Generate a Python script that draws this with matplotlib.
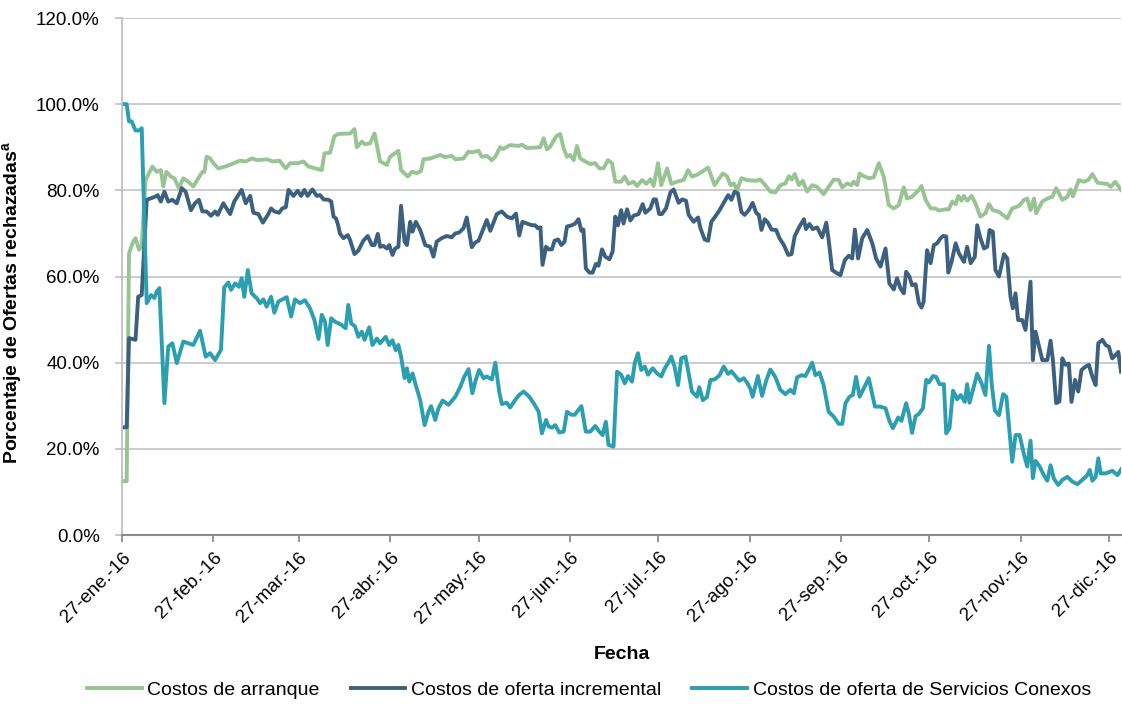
import numpy as np
import pandas as pd
import matplotlib
matplotlib.use("Agg")
import matplotlib.pyplot as plt
from matplotlib.ticker import FuncFormatter

plt.rcParams['font.family'] = ['Liberation Sans', 'DejaVu Sans']

# dias desde 27-ene-2016, valor en %
arranque = [
    (0, 12.5), (1.6, 12.5), (2.4, 65.4), (3.8, 68.1), (4.6, 68.9), (5.8, 66.2), (6.7, 67.0),
    (8.0, 82.4), (10.3, 85.5), (11.8, 84.3), (13.2, 84.7), (14.0, 80.9), (15.1, 84.3), (16.6, 83.2),
    (17.8, 82.8), (19.3, 80.5), (20.8, 82.8), (22.5, 82.0), (24.2, 80.9), (25.9, 82.8), (27.3, 84.3),
    (28.0, 84.3), (28.7, 87.8), (29.9, 87.4), (31.4, 86.0), (32.7, 85.1), (35.0, 85.5), (37.3, 86.1),
    (40.0, 86.9), (42.0, 86.7), (44.0, 87.4), (46.0, 87.0), (49.1, 87.2), (51.2, 86.7), (53.4, 86.9),
    (55.6, 85.1), (57.1, 86.3), (59.7, 86.3), (61.6, 86.7), (63.3, 85.5), (65.5, 85.1), (67.8, 84.7),
    (68.7, 88.6), (70.6, 88.7), (72.1, 92.6), (73.5, 93.1), (77.4, 93.2), (78.9, 94.2), (79.7, 90.0),
    (81.4, 91.3), (82.5, 90.7), (84.2, 90.9), (85.7, 93.2), (87.6, 86.7), (89.9, 85.9), (91.0, 87.8),
    (93.8, 89.2), (94.7, 84.7), (97.0, 83.2), (98.4, 84.3), (100.1, 84.0), (101.5, 84.5), (102.3, 87.2),
    (104.6, 87.4), (108.0, 88.2), (109.7, 87.7), (111.9, 88.0), (113.1, 87.2), (115.9, 87.4),
    (117.6, 89.0), (118.7, 88.8), (121.0, 89.2), (122.1, 87.8), (123.8, 88.0), (125.5, 87.0),
    (126.7, 87.8), (128.3, 90.0), (129.4, 89.6), (131.7, 90.5), (134.6, 90.3), (135.7, 90.6),
    (137.4, 89.8), (141.9, 90.0), (143.1, 92.1), (144.2, 89.5), (145.3, 90.1), (147.3, 92.5),
    (148.7, 93.1), (149.9, 89.7), (151.0, 87.8), (152.1, 88.2), (153.3, 87.0), (154.4, 90.3),
    (155.5, 87.4), (157.2, 86.7), (158.9, 86.1), (160.6, 86.3), (162.0, 85.1), (163.4, 85.1),
    (164.9, 87.0), (166.3, 86.3), (167.4, 82.0), (169.4, 82.0), (170.6, 83.2), (171.9, 81.5),
    (173.5, 82.0), (174.8, 81.0), (176.5, 82.4), (177.9, 81.5), (179.3, 82.6), (180.4, 81.0),
    (181.9, 86.3), (183.0, 81.2), (185.0, 85.1), (186.4, 81.5), (188.3, 82.0), (190.6, 82.4),
    (192.1, 84.7), (193.4, 83.2), (195.1, 83.6), (196.8, 84.3), (198.9, 85.3), (201.1, 81.2),
    (202.7, 82.8), (203.9, 83.9), (205.3, 83.3), (206.5, 81.2), (207.6, 81.6), (208.7, 80.1),
    (210.2, 82.8), (212.1, 82.4), (215.0, 82.2), (216.6, 82.5), (218.3, 81.2), (220.0, 79.7),
    (221.7, 79.5), (223.4, 81.2), (225.1, 81.6), (226.3, 83.3), (227.3, 82.5), (228.3, 83.8),
    (229.7, 81.2), (231.0, 82.2), (232.5, 79.7), (234.2, 81.2), (235.9, 80.8), (238.1, 79.1),
    (239.8, 80.8), (241.5, 82.5), (243.2, 82.4), (244.4, 80.7), (246.1, 81.6), (247.5, 81.2),
    (248.3, 82.0), (249.5, 81.2), (250.3, 83.9), (251.7, 83.3), (253.4, 82.8), (255.1, 83.0),
    (256.8, 86.3), (258.5, 83.2), (260.2, 76.6), (261.9, 75.8), (263.6, 76.6), (265.3, 80.7),
    (266.4, 78.1), (268.1, 78.5), (270.4, 80.1), (271.3, 81.0), (272.7, 77.8), (274.4, 75.8),
    (276.0, 75.8), (277.2, 75.3), (279.5, 75.6), (280.6, 75.6), (281.7, 77.4), (282.9, 76.8),
    (283.8, 78.7), (284.9, 77.6), (285.7, 78.7), (286.8, 77.6), (288.3, 78.7), (289.6, 77.0),
    (291.3, 73.9), (293.0, 74.7), (294.2, 76.8), (295.5, 75.4), (297.6, 75.0), (300.4, 73.5),
    (302.1, 75.8), (304.4, 76.4), (306.1, 77.8), (307.2, 78.1), (308.3, 75.4), (309.5, 78.1),
    (310.2, 74.7), (312.3, 77.4), (314.0, 78.1), (315.7, 78.5), (317.0, 80.5), (319.1, 77.8),
    (320.8, 78.5), (321.9, 80.2), (322.7, 78.6), (324.7, 82.4), (326.4, 82.0), (327.9, 82.4),
    (329.3, 83.8), (331.0, 81.8), (332.7, 81.6), (334.3, 81.5), (335.5, 80.8), (337.0, 82.0),
    (338.3, 80.8), (339.0, 80.1),
]

incremental = [
    (0, 25.0), (1.6, 25.0), (2.4, 45.7), (4.6, 45.3), (5.5, 55.3), (6.7, 55.7), (8.4, 77.8),
    (11.2, 78.5), (12.1, 78.9), (13.2, 77.4), (14.4, 79.7), (15.7, 77.4), (17.1, 77.8), (18.6, 77.0),
    (20.3, 80.5), (21.6, 79.7), (23.4, 75.4), (24.8, 77.0), (26.1, 77.8), (27.3, 75.1), (28.7, 75.1),
    (30.2, 74.1), (31.6, 75.1), (32.5, 74.3), (34.4, 77.0), (36.7, 74.5), (38.1, 77.4), (39.5, 78.9),
    (40.6, 80.1), (42.0, 77.0), (43.5, 78.7), (44.6, 74.8), (46.3, 74.5), (47.8, 72.5), (49.5, 74.3),
    (50.6, 75.8), (51.7, 75.1), (53.3, 74.8), (54.4, 75.8), (55.6, 76.1), (56.5, 80.1), (58.2, 78.7),
    (59.6, 79.9), (60.8, 78.7), (61.9, 80.1), (63.0, 78.7), (64.6, 80.2), (66.1, 78.7), (67.2, 78.9),
    (68.4, 77.9), (70.1, 77.8), (71.0, 77.4), (71.8, 73.9), (72.6, 73.5), (73.2, 72.3), (74.0, 69.9),
    (75.2, 68.9), (76.6, 69.6), (77.4, 68.5), (78.9, 65.2), (80.2, 66.0), (81.9, 68.3), (83.4, 69.4),
    (84.8, 67.3), (85.7, 67.3), (86.8, 69.9), (87.6, 66.9), (88.7, 67.1), (89.9, 66.5), (90.7, 67.3),
    (91.8, 65.0), (92.7, 66.5), (93.8, 66.9), (94.7, 76.4), (95.9, 68.1), (96.7, 67.3), (97.8, 72.7),
    (98.6, 70.4), (99.7, 72.7), (101.2, 70.8), (102.9, 67.3), (104.6, 66.9), (105.7, 64.6),
    (106.8, 68.1), (108.5, 68.9), (110.2, 69.4), (111.9, 69.1), (113.1, 70.0), (114.4, 70.2),
    (115.9, 71.2), (117.0, 73.7), (118.7, 66.8), (119.9, 67.9), (121.0, 68.3), (122.7, 71.2),
    (123.8, 73.1), (125.0, 70.6), (127.2, 74.5), (128.9, 75.1), (130.6, 73.9), (132.3, 73.5),
    (133.7, 74.6), (134.8, 69.5), (135.9, 72.7), (137.4, 72.3), (139.1, 71.9), (140.2, 71.9),
    (141.1, 71.2), (142.0, 71.4), (142.7, 62.7), (143.9, 66.9), (144.8, 66.3), (145.9, 66.3),
    (146.8, 68.3), (148.0, 68.6), (149.1, 67.3), (150.2, 68.1), (151.0, 71.6), (152.7, 71.9),
    (153.8, 72.3), (154.9, 73.3), (155.9, 70.6), (156.6, 70.9), (157.4, 61.9), (158.6, 60.9),
    (159.7, 60.9), (160.8, 62.9), (161.7, 62.5), (162.9, 66.3), (164.0, 64.6), (165.4, 64.0),
    (166.5, 65.8), (167.4, 73.9), (168.3, 71.9), (169.4, 75.4), (170.2, 72.3), (171.4, 75.6),
    (172.5, 73.0), (173.6, 74.1), (175.3, 74.5), (176.7, 76.8), (177.6, 74.8), (179.3, 75.8),
    (180.4, 77.9), (181.2, 77.9), (182.3, 74.5), (183.2, 74.5), (184.6, 75.8), (186.1, 79.5),
    (187.2, 80.2), (188.9, 77.1), (190.1, 77.9), (191.4, 77.6), (192.3, 74.3), (194.0, 72.7),
    (195.5, 73.7), (196.3, 71.2), (197.7, 68.6), (198.9, 68.3), (200.0, 72.7), (201.4, 74.0),
    (202.7, 75.3), (204.8, 77.8), (205.7, 78.9), (206.8, 77.8), (207.9, 79.7), (209.0, 79.3),
    (210.2, 75.0), (211.3, 74.3), (212.7, 75.4), (214.0, 77.1), (215.2, 74.8), (216.1, 74.3),
    (217.0, 70.8), (218.1, 73.3), (219.2, 72.5), (220.4, 70.9), (222.0, 70.8), (223.1, 68.9),
    (224.6, 67.3), (226.1, 65.0), (227.2, 65.2), (228.3, 69.4), (229.9, 71.6), (231.4, 73.3),
    (232.1, 71.0), (233.3, 72.2), (234.4, 71.0), (235.9, 71.4), (237.6, 69.1), (239.0, 72.5),
    (239.8, 68.5), (241.0, 61.5), (242.3, 60.9), (243.8, 60.3), (245.3, 63.8), (246.6, 64.8),
    (247.8, 64.2), (248.7, 70.9), (249.8, 64.2), (251.2, 68.9), (252.9, 70.8), (254.6, 67.7),
    (255.9, 64.2), (257.4, 62.3), (259.1, 66.5), (260.4, 58.4), (261.9, 57.0), (263.0, 59.6),
    (264.2, 57.2), (265.3, 56.1), (266.1, 61.1), (267.2, 60.0), (268.1, 58.0), (269.3, 58.2),
    (270.4, 53.9), (271.3, 52.8), (272.0, 54.0), (273.2, 66.1), (274.4, 63.1), (275.5, 67.3),
    (276.6, 67.7), (277.8, 68.9), (278.6, 69.4), (279.7, 69.3), (280.4, 60.9), (281.5, 63.4),
    (282.9, 67.7), (284.0, 65.4), (285.7, 63.4), (286.8, 66.9), (288.0, 63.1), (289.4, 64.6),
    (290.2, 71.9), (291.3, 68.9), (292.5, 66.5), (293.6, 66.9), (294.4, 70.8), (295.5, 70.4),
    (296.4, 61.5), (297.6, 60.0), (299.3, 65.2), (300.4, 64.2), (301.5, 55.3), (302.3, 52.6),
    (303.2, 56.1), (304.1, 49.9), (305.5, 49.9), (306.6, 47.6), (308.3, 58.8), (309.1, 40.6),
    (310.0, 47.2), (311.2, 43.7), (312.3, 40.6), (314.0, 40.6), (315.1, 45.1), (315.9, 40.6),
    (317.0, 30.6), (318.1, 31.0), (319.1, 41.0), (320.2, 39.5), (321.3, 39.8), (322.2, 30.9),
    (323.4, 36.0), (324.5, 33.3), (325.6, 38.3), (327.0, 39.1), (328.1, 39.5), (329.3, 36.7),
    (330.4, 34.8), (331.3, 44.5), (332.7, 45.3), (333.8, 44.1), (334.9, 43.7), (336.0, 41.0),
    (337.2, 41.8), (338.1, 42.5), (339.0, 37.9),
]

conexos = [
    (0, 100.0), (1.6, 100.0), (2.4, 96.0), (3.3, 96.0), (3.8, 95.2), (4.6, 93.9), (5.8, 93.9),
    (6.7, 94.4), (8.4, 53.8), (9.85, 55.7), (11.0, 55.0), (11.8, 56.5), (12.7, 57.3), (14.4, 30.6),
    (15.7, 43.7), (17.1, 44.5), (18.6, 39.9), (20.8, 44.9), (22.5, 44.5), (24.2, 44.1), (26.5, 47.4),
    (28.4, 41.4), (29.9, 42.2), (31.6, 40.6), (33.6, 43.0), (34.7, 57.5), (36.1, 58.6), (37.0, 56.9),
    (38.4, 58.4), (39.7, 57.6), (40.6, 59.6), (41.5, 55.3), (42.7, 61.5), (44.0, 56.1), (45.7, 55.0),
    (46.9, 53.8), (48.0, 54.7), (49.1, 53.0), (50.6, 55.3), (51.7, 51.6), (53.1, 54.2), (55.9, 55.2),
    (57.4, 50.7), (58.7, 54.7), (60.4, 53.8), (62.1, 54.5), (63.8, 52.6), (65.3, 49.9), (66.7, 45.5),
    (67.8, 51.1), (68.9, 49.5), (69.8, 44.1), (71.0, 50.3), (72.3, 49.5), (73.6, 49.1), (74.6, 48.7),
    (75.9, 48.0), (76.8, 53.4), (77.8, 49.1), (79.1, 48.4), (80.2, 46.0), (81.4, 47.2), (82.3, 45.3),
    (83.9, 48.2), (85.0, 44.1), (86.5, 45.6), (87.6, 44.5), (89.5, 46.0), (90.7, 44.1), (91.8, 45.2),
    (92.9, 42.9), (93.8, 44.1), (94.7, 41.4), (95.9, 36.4), (96.7, 38.7), (97.5, 35.6), (98.6, 37.5),
    (99.7, 34.8), (101.2, 31.3), (102.7, 25.5), (104.0, 28.6), (104.9, 29.9), (106.3, 26.7),
    (107.4, 29.4), (108.8, 31.2), (110.8, 30.2), (113.1, 32.1), (114.8, 34.4), (116.2, 36.8),
    (117.6, 38.5), (118.9, 32.9), (120.1, 36.1), (121.2, 38.3), (122.7, 36.4), (123.8, 36.8),
    (125.5, 36.1), (126.7, 40.0), (128.0, 33.3), (128.9, 30.4), (130.6, 30.7), (131.7, 29.6),
    (133.4, 31.3), (134.6, 32.4), (136.3, 33.3), (138.2, 32.1), (139.7, 30.6), (141.4, 28.6),
    (142.5, 23.6), (143.9, 26.7), (144.8, 25.2), (145.9, 24.9), (147.0, 25.5), (148.4, 23.8),
    (149.9, 24.0), (151.0, 28.6), (152.5, 27.9), (153.6, 27.9), (155.9, 29.9), (157.4, 24.0),
    (158.9, 24.0), (160.6, 25.3), (162.0, 24.0), (163.1, 23.2), (164.2, 26.3), (165.1, 20.9),
    (166.8, 20.5), (168.0, 37.9), (169.4, 37.2), (170.6, 35.2), (171.7, 36.9), (173.1, 35.6),
    (174.0, 39.9), (175.1, 42.2), (176.2, 38.3), (177.4, 39.1), (178.5, 37.2), (180.1, 38.7),
    (181.6, 37.5), (183.0, 36.8), (184.2, 38.7), (185.3, 39.9), (186.4, 41.4), (187.5, 39.1),
    (188.7, 34.8), (189.8, 41.0), (191.2, 41.4), (192.3, 37.5), (193.4, 33.3), (195.1, 32.1),
    (195.9, 34.3), (197.1, 31.3), (198.5, 32.0), (199.7, 36.0), (201.1, 36.1), (202.7, 37.0),
    (204.2, 39.1), (205.7, 37.4), (206.8, 38.0), (208.4, 36.7), (209.5, 35.8), (211.0, 36.4),
    (212.1, 35.4), (213.2, 34.0), (214.0, 32.1), (215.8, 36.9), (217.2, 32.3), (218.6, 35.8),
    (220.0, 38.4), (221.7, 36.7), (223.4, 33.7), (225.1, 32.7), (226.8, 33.7), (228.0, 32.9),
    (229.1, 36.6), (230.6, 37.1), (231.9, 36.9), (233.1, 38.4), (234.2, 40.0), (235.3, 37.1),
    (236.7, 37.7), (238.1, 34.8), (239.8, 28.6), (241.5, 27.5), (243.2, 25.8), (244.4, 25.8),
    (245.5, 30.6), (246.9, 32.1), (248.0, 32.5), (249.1, 36.7), (250.3, 32.1), (251.7, 34.0),
    (253.4, 36.4), (255.5, 29.8), (257.4, 29.8), (259.1, 29.4), (260.4, 26.5), (261.6, 24.8),
    (263.4, 27.3), (264.5, 26.5), (266.1, 30.6), (267.0, 28.2), (268.1, 23.7), (269.3, 27.6),
    (270.4, 28.1), (271.8, 29.4), (272.9, 36.0), (273.8, 35.4), (275.2, 36.9), (276.3, 36.7),
    (277.4, 35.0), (278.9, 35.0), (279.7, 23.6), (280.8, 24.8), (282.0, 33.5), (283.4, 31.5),
    (284.6, 32.5), (286.0, 30.9), (286.8, 35.0), (287.6, 30.7), (288.7, 33.5), (290.2, 37.4),
    (291.7, 35.2), (293.0, 32.5), (294.2, 43.9), (295.1, 35.2), (296.2, 28.9), (297.6, 27.8),
    (299.0, 32.7), (300.1, 32.1), (302.1, 17.0), (303.2, 23.2), (304.6, 23.2), (306.1, 18.6),
    (307.2, 15.9), (308.3, 21.9), (309.1, 13.2), (310.0, 17.2), (311.4, 15.9), (312.8, 13.9),
    (314.0, 12.6), (315.1, 16.2), (316.2, 13.1), (317.7, 11.6), (319.1, 12.8), (320.8, 13.5),
    (322.5, 12.4), (324.2, 11.8), (325.9, 12.8), (327.6, 13.9), (328.4, 15.1), (329.3, 12.6),
    (330.4, 13.5), (331.3, 17.8), (332.1, 14.3), (333.8, 14.3), (336.1, 14.9), (337.8, 13.9),
    (339.0, 15.2),
]

series = ['Costos de arranque', 'Costos de oferta incremental',
          'Costos de oferta de Servicios Conexos']
colores = ['#98C494', '#3C6080', '#2B9EAF']

fecha_ini = pd.Timestamp('2016-01-27')
fechas_ticks = pd.date_range('2016-01-01', '2016-12-01', freq='MS') + pd.Timedelta(days=26)
etiquetas_x = ['27-ene.-16', '27-feb.-16', '27-mar.-16', '27-abr.-16', '27-may.-16',
               '27-jun.-16', '27-jul.-16', '27-ago.-16', '27-sep.-16', '27-oct.-16',
               '27-nov.-16', '27-dic.-16']

fig = plt.figure(figsize=(11.22, 7.06), dpi=100)
ax = fig.add_axes([0.1087, 0.2422, 0.8904, 0.7323])

for nombre, datos, color in zip(series, [arranque, incremental, conexos], colores):
    dias = np.array([d for d, _ in datos])
    vals = np.array([v for _, v in datos])
    x = fecha_ini + pd.to_timedelta(dias, unit='D')
    ax.plot(x, vals, color=color, lw=2.8, label=nombre, solid_joinstyle='round')

ax.set_ylim(0, 120)
ax.set_yticks(np.arange(0, 121, 20))
ax.yaxis.set_major_formatter(FuncFormatter(lambda v, p: f'{v:.1f}%'))
ax.set_xlim(fecha_ini, fecha_ini + pd.Timedelta(days=339))
ax.set_xticks(fechas_ticks)
ax.set_xticklabels(etiquetas_x, rotation=45, ha='right', va='top', rotation_mode='anchor')

ax.grid(axis='y', color='#C8C8C8', lw=1.3)
ax.set_axisbelow(True)
for s in ['top', 'right']:
    ax.spines[s].set_visible(False)
ax.spines['left'].set_color('#BFBFBF')
ax.spines['left'].set_linewidth(1.3)
ax.spines['bottom'].set_color('#8C8C8C')
ax.spines['bottom'].set_linewidth(1.5)
ax.tick_params(axis='y', colors='#BFBFBF', labelcolor='black', length=5, width=1.2,
               labelsize=13.5, pad=11)
ax.tick_params(axis='x', colors='#8C8C8C', labelcolor='black', length=5, width=1.3,
               labelsize=13.5, pad=5)

ax.set_xlabel('Fecha', fontsize=14, fontweight='bold')
ax.xaxis.set_label_coords(0.5, -0.215)
ax.set_ylabel('Porcentaje de Ofertas rechazadas$^{\\mathregular{a}}$', fontsize=14,
              fontweight='bold')
ax.yaxis.set_label_coords(-0.097, 0.45)

fig.legend(loc='center', bbox_to_anchor=(0.525, 0.023), ncol=3, frameon=False,
           fontsize=14, handlelength=2.8, columnspacing=1.6, handletextpad=0.3)

fig.savefig('out.png', dpi=100)
